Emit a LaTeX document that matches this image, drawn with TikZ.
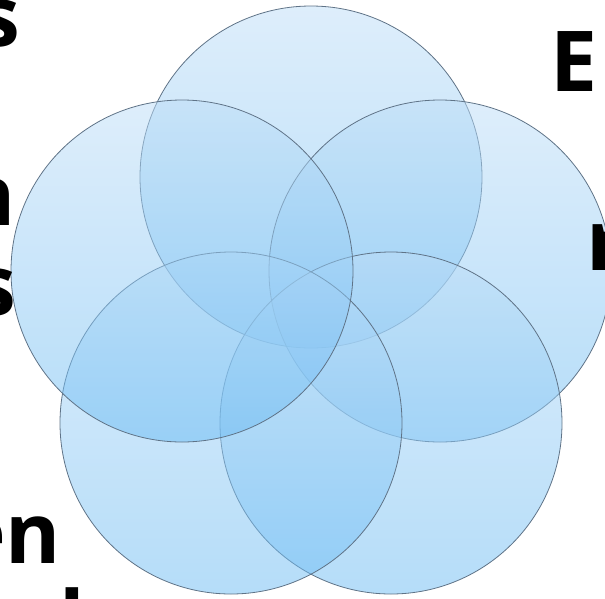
\documentclass[tikz,border=0pt]{standalone}
\usepackage{fontspec}
\setmainfont{Open Sans}
\definecolor{ctop}{RGB}{189,221,247}
\definecolor{cbot}{RGB}{107,187,243}
\definecolor{rimc}{RGB}{95,115,135}
\begin{document}
\begin{tikzpicture}[x=1pt,y=-1pt,
  venn/.style={top color=ctop,bottom color=cbot,fill opacity=0.5},
  rim/.style={draw=rimc,line width=0.8pt},
  lbl/.style={font=\fontsize{84}{90}\selectfont\bfseries,inner sep=0pt,outer sep=0pt,text=black}]
\useasboundingbox (0,0) rectangle (605,598);
\clip (0,0) rectangle (605,598);
\coordinate (c1) at (311,177);
\coordinate (c2) at (440,271);
\coordinate (c3) at (391,423);
\coordinate (c4) at (231,423);
\coordinate (c5) at (182,271);
\foreach \c in {c1,c2,c3,c4,c5}{
  \shade[venn] (\c) circle[radius=171pt];
  \draw[rim] (\c) circle[radius=171pt];
}
\node[lbl,anchor=base east] (t1) at (20,46) {s};
\node[lbl,anchor=base east] (t2) at (16,225) {n};
\node[lbl,anchor=base east] (t3) at (16,315) {s};
\node[lbl,anchor=base east] (t4) at (61,563) {en};
\node[lbl,anchor=base west] (t5) at (59,651) {l};
\node[lbl,anchor=base west] (t6) at (550,91) {E};
\node[lbl,anchor=base west] (t7) at (586,270) {r};
\end{tikzpicture}
\end{document}
